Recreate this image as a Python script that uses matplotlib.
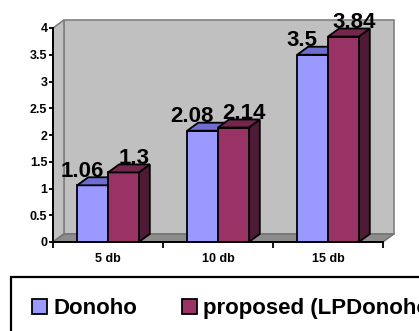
import matplotlib
matplotlib.use('Agg')
import matplotlib.pyplot as plt
from matplotlib.patches import Polygon, Patch

plt.rcParams['font.family'] = 'Liberation Sans'
plt.rcParams['font.weight'] = 'bold'

# noise levels and the two series
categories = ['5 db', '10 db', '15 db']
donoho = [1.06, 2.08, 3.5]
proposed = [1.3, 2.14, 3.84]
series_names = ['Donoho', 'proposed (LPDonoho)']
yticks = [0, 0.5, 1, 1.5, 2, 2.5, 3, 3.5, 4]

front = ['#9999FF', '#993366']
top = ['#6E6ECF', '#74264D']
side = ['#5555A8', '#4E1A35']

# fake 3d depth (data units)
dx, dy = 0.1, 0.15
w = 0.28

fig = plt.figure(figsize=(4.19, 3.31), dpi=100)
ax = fig.add_axes([53/419, 89/331, 330/419, 214/331])
ax.set_xlim(-0.5, 2.5)
ax.set_ylim(0, 4)

ymax = yticks[-1]
# back wall, left wall, floor
ax.add_patch(Polygon([(-0.5+dx, dy), (2.5+dx, dy), (2.5+dx, ymax+dy), (-0.5+dx, ymax+dy)],
	fc='#C0C0C0', ec='#808080', lw=1.2, clip_on=False, zorder=0))
ax.add_patch(Polygon([(-0.5, 0), (-0.5+dx, dy), (-0.5+dx, ymax+dy), (-0.5, ymax)],
	fc='#C0C0C0', ec='#808080', lw=1.2, clip_on=False, zorder=0))
ax.add_patch(Polygon([(-0.5, 0), (2.5, 0), (2.5+dx, dy), (-0.5+dx, dy)],
	fc='#8C8C8C', ec='#707070', lw=1, clip_on=False, zorder=0))

label_shift = [-11.5, 3.6]
for s, vals in enumerate([donoho, proposed]):
	xs = [i - w + s*w for i in range(len(categories))]
	ax.bar(xs, vals, width=w, align='edge', color=front[s], edgecolor='black',
		lw=1.3, zorder=2+s*2)
	for x, v in zip(xs, vals):
		ax.add_patch(Polygon([(x, v), (x+w, v), (x+w+dx, v+dy), (x+dx, v+dy)],
			fc=top[s], ec='black', lw=1.3, zorder=2+s*2, clip_on=False))
		ax.add_patch(Polygon([(x+w, 0), (x+w+dx, dy), (x+w+dx, v+dy), (x+w, v)],
			fc=side[s], ec='black', lw=1.3, zorder=1+s*2, clip_on=False))
		ax.annotate(str(v), (x + w/2 + dx/2, v + dy), xytext=(label_shift[s], 0.5),
			textcoords='offset points', ha='center', va='baseline',
			fontsize=16, fontweight='bold', zorder=10)

for sp in ['top', 'right']:
	ax.spines[sp].set_visible(False)
for sp in ['left', 'bottom']:
	ax.spines[sp].set_linewidth(1.4)
	ax.spines[sp].set_zorder(6)

ax.set_yticks(yticks)
ax.set_yticklabels(['%g' % t for t in yticks], fontsize=9, fontweight='bold')
ax.tick_params(axis='y', direction='out', length=3, width=1.3, pad=1)

ax.set_xticks([-0.5, 0.5, 1.5, 2.5])
ax.set_xticklabels([])
ax.tick_params(axis='x', which='major', direction='out', length=4, width=1.3)
ax.set_xticks(range(len(categories)), minor=True)
ax.set_xticklabels(categories, minor=True, fontsize=9, fontweight='bold')
ax.tick_params(axis='x', which='minor', length=0, pad=8)

handles = [Patch(fc=front[0], ec='black', lw=1.3), Patch(fc=front[1], ec='black', lw=1.3)]
leg = fig.legend(handles, series_names, loc='upper left', bbox_to_anchor=(11/419, 1 - 277/331),
	ncol=2, frameon=True, fancybox=False, edgecolor='black', framealpha=1,
	prop={'size': 16, 'weight': 'bold'}, handlelength=0.68, handleheight=0.68,
	handletextpad=0.27, columnspacing=2.0, borderpad=0.95, borderaxespad=0)
leg.get_frame().set_linewidth(1.6)

fig.savefig('out.png', dpi=100)
